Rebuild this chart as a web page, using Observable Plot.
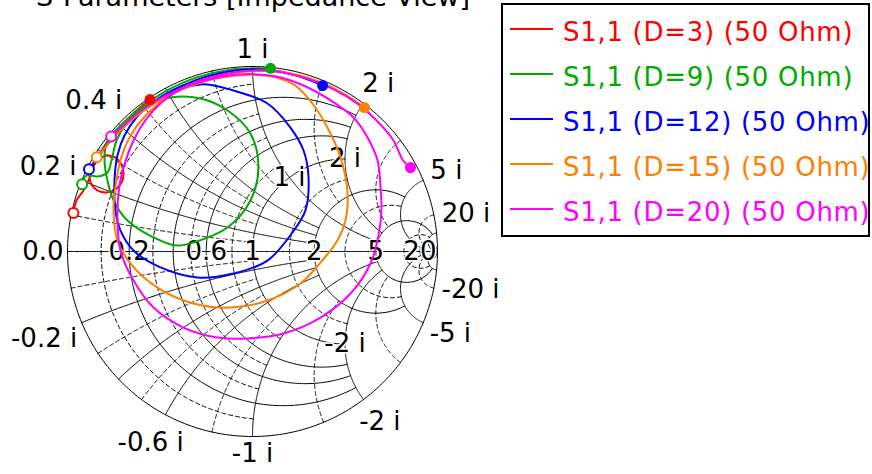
<!DOCTYPE html>
<html><head><meta charset="utf-8">
<script src="https://cdn.jsdelivr.net/npm/d3@7"></script>
<script src="https://cdn.jsdelivr.net/npm/@observablehq/plot@0.6"></script>
<style>
html,body{margin:0;padding:0;background:#fff;}
#wrap{position:relative;width:872px;height:474px;overflow:hidden;font-family:"DejaVu Sans",sans-serif;}
#chart{position:absolute;left:0;top:0;}
#title{position:absolute;left:0;width:506px;top:-16px;text-align:center;font-size:27px;line-height:26px;white-space:nowrap;color:#000;}
#legend{position:absolute;left:501px;top:3px;width:369px;height:234px;border:2px solid #000;box-sizing:border-box;padding-top:4px;background:#fff;}
.row{height:45px;display:flex;align-items:center;font-size:26px;letter-spacing:0.7px;white-space:nowrap;}
.sw{width:43px;height:2px;margin-left:7px;margin-right:10px;position:relative;top:-3px;flex:none;}
</style></head><body>
<div id="wrap"><div id="chart"></div><div id="title">S-Parameters [Impedance View]</div><div id="legend"></div></div>
<script>
const series = ["S1,1 (D=3) (50 Ohm)", "S1,1 (D=9) (50 Ohm)", "S1,1 (D=12) (50 Ohm)", "S1,1 (D=15) (50 Ohm)", "S1,1 (D=20) (50 Ohm)"];
const colors = ["#ff0000", "#00aa00", "#0000ff", "#ff8000", "#ff00ff"];

const reD3 = [-0.968,-0.951,-0.914,-0.886,-0.865,-0.832,-0.789,-0.741,-0.708,-0.697,-0.708,-0.741,-0.789,-0.838,-0.870,-0.881,-0.862,-0.833,-0.782,-0.725,-0.659,-0.604,-0.554];
const imD3 = [0.208,0.276,0.330,0.384,0.449,0.497,0.519,0.508,0.470,0.422,0.373,0.335,0.319,0.330,0.362,0.411,0.466,0.515,0.598,0.667,0.732,0.782,0.821];

const reD9 = [-0.921,-0.897,-0.838,-0.784,-0.762,-0.735,-0.681,-0.589,-0.443,-0.281,-0.135,-0.011,0.032,-0.011,-0.135,-0.319,-0.405,-0.497,-0.676,-0.751,-0.784,-0.800,-0.784,-0.712,-0.625,-0.464,-0.305,-0.119,0.097];
const imD9 = [0.364,0.411,0.405,0.427,0.492,0.600,0.692,0.778,0.832,0.827,0.762,0.638,0.454,0.276,0.130,0.049,0.032,0.059,0.168,0.276,0.384,0.492,0.600,0.680,0.761,0.869,0.940,0.983,0.990];

const reD12 = [-0.884,-0.841,-0.791,-0.722,-0.616,-0.497,-0.281,-0.103,0.081,0.205,0.276,0.303,0.286,0.216,0.081,-0.103,-0.297,-0.497,-0.643,-0.714,-0.741,-0.746,-0.730,-0.692,-0.622,-0.524,-0.389,-0.227,-0.038,0.151,0.286,0.379];
const imD12 = [0.445,0.503,0.570,0.648,0.743,0.832,0.903,0.870,0.800,0.670,0.546,0.400,0.222,0.103,-0.049,-0.119,-0.141,-0.086,0.005,0.114,0.222,0.384,0.519,0.627,0.730,0.816,0.892,0.951,0.984,0.973,0.935,0.897];

const reD15 = [-0.842,-0.796,-0.731,-0.650,-0.537,-0.380,-0.197,-0.011,0.123,0.232,0.324,0.405,0.476,0.514,0.503,0.459,0.368,0.259,0.081,-0.119,-0.319,-0.514,-0.659,-0.730,-0.751,-0.741,-0.714,-0.659,-0.578,-0.470,-0.308,-0.119,0.070,0.257,0.413,0.519,0.605];
const imD15 = [0.510,0.563,0.637,0.713,0.795,0.876,0.935,0.955,0.942,0.897,0.800,0.670,0.508,0.314,0.168,0.059,-0.059,-0.173,-0.265,-0.303,-0.281,-0.195,-0.065,0.059,0.222,0.346,0.492,0.627,0.735,0.827,0.914,0.962,0.978,0.951,0.895,0.837,0.778];

const reD20 = [-0.764,-0.700,-0.607,-0.479,-0.299,-0.090,0.121,0.269,0.416,0.546,0.622,0.676,0.692,0.697,0.681,0.638,0.530,0.368,0.168,-0.027,-0.189,-0.373,-0.535,-0.643,-0.714,-0.730,-0.719,-0.697,-0.643,-0.568,-0.459,-0.281,-0.103,0.080,0.252,0.436,0.573,0.681,0.763,0.814,0.854];
const imD20 = [0.621,0.679,0.757,0.838,0.912,0.956,0.947,0.900,0.821,0.724,0.616,0.492,0.346,0.222,0.086,-0.065,-0.227,-0.357,-0.443,-0.470,-0.465,-0.411,-0.303,-0.157,0.005,0.205,0.357,0.454,0.600,0.724,0.832,0.924,0.968,0.977,0.947,0.878,0.795,0.697,0.599,0.492,0.454];

// ---- grid values and labels ----
const rSolid = [0.2, 0.4, 0.6, 1, 2, 5, 20];
const rDashed = [0.1, 0.3, 0.5, 0.8, 1.5, 3, 10];
const xSolid = [0.2, 0.4, 0.6, 1, 2, 5, 20];
const xDashed = [0.1, 0.3, 0.5, 0.8, 1.5, 3, 10];
const axisLabels = ["0.0", "0.2", "0.6", "1", "2", "5", "20"];
const axisValues = [0, 0.2, 0.6, 1, 2, 5, 20];
const edgeLabels = ["0.2 i", "0.4 i", "1 i", "2 i", "5 i", "20 i", "-20 i", "-5 i", "-2 i", "-1 i", "-0.6 i", "-0.2 i"];
const edgeValues = [0.2, 0.4, 1, 2, 5, 20, -20, -5, -2, -1, -0.6, -0.2];
const innerLabels = ["1 i", "2 i", "-2 i"];
const innerValues = [1, 2, -2];

// ---- build tables ----
const traces = [[reD3, imD3], [reD9, imD9], [reD12, imD12], [reD15, imD15], [reD20, imD20]];
const pts = traces.flatMap(([re, im], k) => re.map((u, i) => ({u, v: im[i], s: series[k]})));
const starts = traces.map(([re, im], k) => ({u: re[0], v: im[0], s: series[k]}));
const ends = traces.map(([re, im], k) => ({u: re[re.length - 1], v: im[im.length - 1], s: series[k]}));

function gam(r, x) { const d = (r + 1) ** 2 + x * x; return [(r * r - 1 + x * x) / d, 2 * x / d]; }
const grid = []; let gid = 0;
function addR(r, L, dashed) { const a = Math.atan(L), n = 300, id = gid++;
  for (let k = 0; k <= n; k++) { const [u, v] = gam(r, Math.tan(-a + 2 * a * k / n)); grid.push({u, v, id, dashed}); } }
function addX(x, L, dashed) { const a = Math.atan(L), n = 240, id = gid++;
  for (let k = 0; k <= n; k++) { const [u, v] = gam(Math.tan(a * k / n), x); grid.push({u, v, id, dashed}); } }
function lim(v, d, isX) { v = Math.abs(v);
  if (v < 1) return d ? 1 : 2; if (v === 1) return isX ? 5 : 2;
  if (v < 2) return 2; if (v < 5) return 5; if (v < 20) return 20; return Infinity; }
addR(0, Infinity, false);
addX(0, Infinity, false);
rSolid.forEach(r => addR(r, lim(r, false, false), false));
rDashed.forEach(r => addR(r, lim(r, true, false), true));
xSolid.forEach(x => { addX(x, lim(x, false, true), false); addX(-x, lim(x, false, true), false); });
xDashed.forEach(x => { addX(x, lim(x, true, true), true); addX(-x, lim(x, true, true), true); });

const FS = 26;
const cw = {"0": .636, "1": .636, "2": .636, "4": .636, "5": .636, "6": .636, ".": .318, "-": .361, " ": .318, "i": .278};
const tw = s => [...s].reduce((w, c) => w + (cw[c] ?? .6), 0) * FS;
const edge = edgeLabels.map((t, k) => {
  const x = edgeValues[k]; let th = Math.atan2(2 * x, x * x - 1);
  const m = 10 * Math.PI / 180; if (Math.abs(th) < m) th = Math.sign(th) * m;
  const R = 185 + 6 + tw(t) / 2 * Math.abs(Math.cos(th)) + 11 * Math.abs(Math.sin(th));
  return {t, u: R / 185 * Math.cos(th), v: R / 185 * Math.sin(th)};
});
const axisT = axisLabels.map((t, k) => ({t, u: (axisValues[k] - 1) / (axisValues[k] + 1), v: 0}));
const innerT = innerLabels.map((t, k) => { const [u, v] = gam(1, innerValues[k]); return {t, u, v}; });

const chart = Plot.plot({
  width: 872, height: 474, margin: 0,
  x: {domain: [-1, 1], range: [67, 437], axis: null},
  y: {domain: [-1, 1], range: [436, 66], axis: null},
  color: {domain: series, range: colors},
  style: {fontFamily: "DejaVu Sans", background: "white", overflow: "visible"},
  marks: [
    Plot.line(grid.filter(d => !d.dashed), {x: "u", y: "v", z: "id", stroke: "#000", strokeWidth: 1}),
    Plot.line(grid.filter(d => d.dashed), {x: "u", y: "v", z: "id", stroke: "#000", strokeWidth: 1, strokeDasharray: "4,3"}),
    Plot.text(axisT.slice(1), {x: "u", y: "v", text: "t", fontSize: FS, fill: "black", stroke: "white", strokeWidth: 3, paintOrder: "stroke", textAnchor: "middle", lineAnchor: "middle"}),
    Plot.text(axisT.slice(0, 1), {x: "u", y: "v", text: "t", fontSize: FS, fill: "black", textAnchor: "end", lineAnchor: "middle", dx: -4}),
    Plot.text(edge, {x: "u", y: "v", text: "t", fontSize: FS, fill: "black", textAnchor: "middle", lineAnchor: "middle"}),
    Plot.text(innerT, {x: "u", y: "v", text: "t", fontSize: FS, fill: "black", stroke: "white", strokeWidth: 3, paintOrder: "stroke", textAnchor: "middle", lineAnchor: "middle"}),
    Plot.line(pts, {x: "u", y: "v", z: "s", stroke: "s", strokeWidth: 2, curve: "catmull-rom"}),
    Plot.dot(starts, {x: "u", y: "v", r: 5, stroke: "s", fill: "white", strokeWidth: 2}),
    Plot.dot(ends, {x: "u", y: "v", r: 5.5, fill: "s"})
  ]
});
document.getElementById("chart").appendChild(chart);

const lg = document.getElementById("legend");
series.forEach((s, k) => {
  const row = document.createElement("div"); row.className = "row"; row.style.color = colors[k];
  const sw = document.createElement("span"); sw.className = "sw"; sw.style.background = colors[k];
  const tx = document.createElement("span"); tx.textContent = s;
  row.appendChild(sw); row.appendChild(tx); lg.appendChild(row);
});
</script></body></html>
